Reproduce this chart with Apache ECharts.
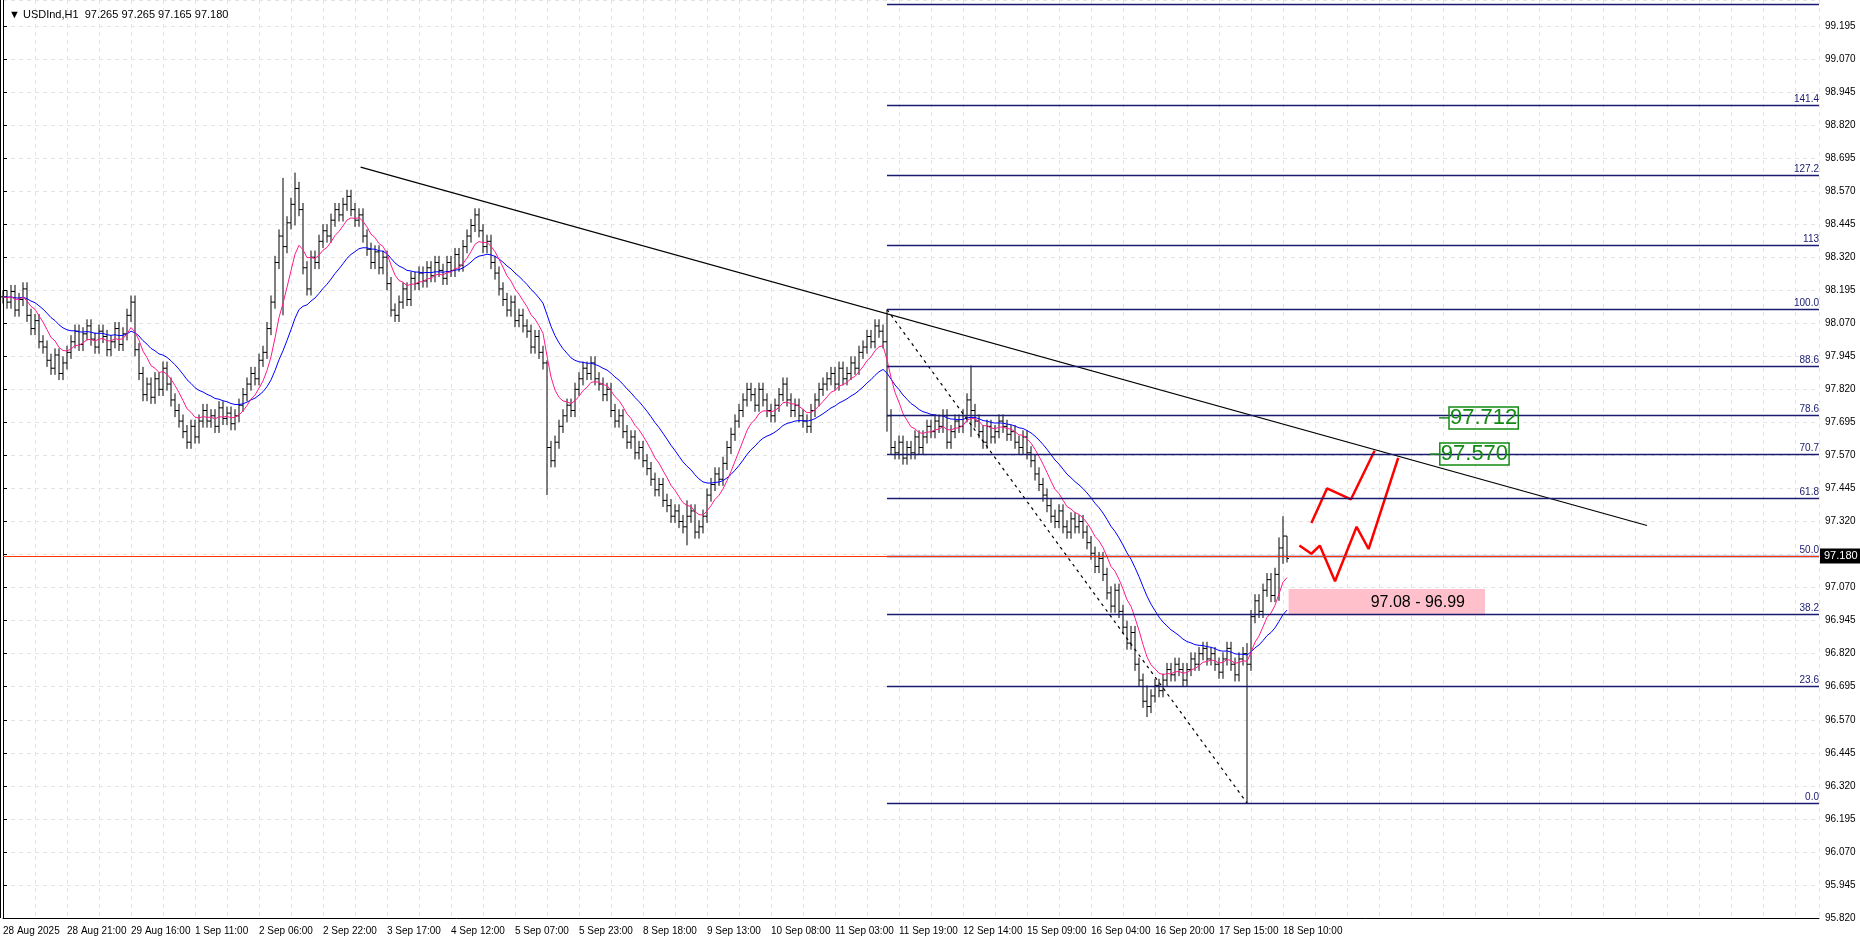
<!DOCTYPE html>
<html>
<head>
<meta charset="utf-8">
<script src="https://cdn.jsdelivr.net/npm/echarts@6/dist/echarts.min.js"></script>
<style>
html, body { margin: 0; padding: 0; background: #fff; }
#chart { width: 1860px; height: 942px; }
</style>
</head>
<body>
<div id="chart"></div>
<script>
// tick labels every 16 bars
var dateLabels = ['28 Aug 2025', '28 Aug 21:00', '29 Aug 16:00', '1 Sep 11:00', '2 Sep 06:00', '2 Sep 22:00',
  '3 Sep 17:00', '4 Sep 12:00', '5 Sep 07:00', '5 Sep 23:00', '8 Sep 18:00', '9 Sep 13:00', '10 Sep 08:00',
  '11 Sep 03:00', '11 Sep 19:00', '12 Sep 14:00', '15 Sep 09:00', '16 Sep 04:00', '16 Sep 20:00',
  '17 Sep 15:00', '18 Sep 10:00'];

// hourly closes
var closes = [
  98.17, 98.15, 98.19, 98.12, 98.16, 98.20, 98.10, 98.05, 98.08, 98.00,
  97.98, 97.93, 97.90, 97.95, 97.88, 97.92, 97.96, 98.00, 98.04, 97.99,
  98.03, 98.06, 98.01, 97.98, 98.04, 98.02, 97.97, 98.00, 98.05, 97.99,
  98.03, 98.10, 98.15, 97.97, 97.88, 97.80, 97.84, 97.79, 97.86, 97.82,
  97.90, 97.84, 97.78, 97.74, 97.70, 97.66, 97.62, 97.68, 97.64, 97.70,
  97.74, 97.70, 97.72, 97.68, 97.75, 97.71, 97.73, 97.69, 97.72, 97.76,
  97.80, 97.84, 97.88, 97.86, 97.93, 97.96, 98.05, 98.15, 98.30, 98.40,
  98.36, 98.45, 98.52, 98.58, 98.50, 98.28, 98.20, 98.32, 98.30, 98.38,
  98.42, 98.40, 98.46, 98.50, 98.48, 98.52, 98.55, 98.50, 98.46, 98.48,
  98.40, 98.35, 98.30, 98.34, 98.28, 98.32, 98.22, 98.12, 98.10, 98.15,
  98.20, 98.16, 98.24, 98.22, 98.26, 98.23, 98.28, 98.25, 98.30, 98.27,
  98.24, 98.30, 98.27, 98.33, 98.29, 98.36, 98.40, 98.44, 98.48, 98.42,
  98.36, 98.38, 98.30, 98.26, 98.20, 98.16, 98.12, 98.15, 98.08, 98.10,
  98.06, 98.04, 97.98, 98.02, 97.96, 97.92, 97.60, 97.55, 97.62, 97.68,
  97.72, 97.76, 97.74, 97.82, 97.86, 97.90, 97.88, 97.92, 97.86, 97.84,
  97.80, 97.82, 97.74, 97.70, 97.72, 97.66, 97.62, 97.64, 97.58, 97.60,
  97.55, 97.52, 97.48, 97.44, 97.46, 97.40, 97.38, 97.34, 97.36, 97.32,
  97.30, 97.34, 97.36, 97.28, 97.30, 97.34, 97.42, 97.46, 97.50, 97.48,
  97.54, 97.60, 97.65, 97.70, 97.74, 97.78, 97.82, 97.80, 97.76, 97.82,
  97.78, 97.74, 97.72, 97.76, 97.80, 97.84, 97.78, 97.74, 97.76, 97.72,
  97.70, 97.68, 97.74, 97.78, 97.82, 97.84, 97.86, 97.88, 97.84, 97.90,
  97.86, 97.88, 97.92, 97.90, 97.96, 97.98, 98.02, 98.00, 98.06, 98.04,
  98.00, 97.72, 97.60, 97.58, 97.62, 97.56, 97.60, 97.58, 97.64, 97.60,
  97.64, 97.68, 97.66, 97.70, 97.68, 97.72, 97.62, 97.66, 97.70, 97.68,
  97.72, 97.78, 97.74, 97.70, 97.66, 97.62, 97.68, 97.64, 97.66, 97.70,
  97.68, 97.65, 97.66, 97.62, 97.60, 97.64, 97.58, 97.55, 97.50, 97.46,
  97.42, 97.38, 97.34, 97.32, 97.36, 97.30, 97.28, 97.33, 97.30, 97.32,
  97.28, 97.24, 97.20, 97.15, 97.18, 97.12, 97.05, 97.00, 97.06, 96.98,
  96.92, 96.86, 96.90, 96.78, 96.72, 96.64, 96.62, 96.66, 96.70, 96.68,
  96.72, 96.76, 96.74, 96.78, 96.76, 96.72, 96.76, 96.80, 96.78, 96.82,
  96.84, 96.80, 96.82, 96.78, 96.75, 96.80, 96.84, 96.78, 96.74, 96.80,
  96.82, 96.78, 96.96, 97.02, 96.98, 97.06, 97.10, 97.04, 97.12, 97.22,
  97.265, 97.18
];
// bars whose wicks stick out further than usual: [index, high, low]
var wickOverrides = [[70, 98.62, 98.10], [73, 98.64, 98.44], [136, 97.93, 97.42], [171, 97.40, 97.23],
  [221, 98.122, 97.66], [242, 97.91, 97.64], [286, 96.70, 96.58], [311, 96.86, 96.255],
  [319, 97.26, 97.02], [320, 97.34, 97.16], [321, 97.265, 97.165]];

var trendLine = [[89.4, 98.661], [411, 97.305]];
var diagLine = [[221, 98.122], [311, 96.255]];
var fibStart = 221, fibLow = 96.255, fibHigh = 98.122;
var fibLevels = [0, 23.6, 38.2, 50.0, 61.8, 70.7, 78.6, 88.6, 100.0, 113, 127.2, 141.4, 161.8];
var fibNames = ['0.0', '23.6', '38.2', '50.0', '61.8', '70.7', '78.6', '88.6', '100.0', '113', '127.2', '141.4', ''];
var zigA = [[327.1, 97.314], [331, 97.445], [337, 97.404], [342.9, 97.588]];
var zigB = [[324.1, 97.229], [327.1, 97.198], [329.2, 97.229], [333, 97.094], [338.4, 97.300], [341.4, 97.216], [348.8, 97.561]];
var zone = [[321.4, 97.065], [370.5, 96.965]];
var targets = [[361.5, 97.712, '97.712'], [359.2, 97.575, '97.570']];
var lastPrice = 97.18, bidLine = 97.195;

// build OHLC bars
var bars = [];
for (var i = 0; i < closes.length; i++) {
  var c = closes[i];
  var o = i === 0 ? c : closes[i - 1];
  bars.push([i, o, Math.max(o, c) + 0.025, Math.min(o, c) - 0.025, c]);
}
wickOverrides.forEach(function (w) { bars[w[0]][2] = w[1]; bars[w[0]][3] = w[2]; });
bars[321][1] = 97.265;

function ema(period) {
  var k = 2 / (period + 1), out = [], v = closes[0];
  for (var i = 0; i < closes.length; i++) {
    v = i === 0 ? closes[0] : closes[i] * k + v * (1 - k);
    out.push([i, +v.toFixed(4)]);
  }
  return out;
}

var fibMarks = fibLevels.map(function (lv, n) {
  var p = fibLow + (fibHigh - fibLow) * lv / 100;
  return [{ coord: [fibStart, p], label: { formatter: fibNames[n] } }, { coord: [454, p] }];
});

var chart = echarts.init(document.getElementById('chart'));
chart.setOption({
  animation: false,
  backgroundColor: '#fff',
  textStyle: { fontFamily: 'Liberation Sans, DejaVu Sans, sans-serif' },
  title: {
    text: '▼ USDInd,H1  97.265 97.265 97.165 97.180',
    left: 4, top: 4,
    textStyle: { fontSize: 11, fontWeight: 'normal', color: '#000' }
  },
  grid: { left: 3, right: 41, top: 0, bottom: 24 },
  graphic: [{ type: 'line', shape: { x1: 0.5, y1: 0, x2: 0.5, y2: 918 }, style: { stroke: '#000', lineWidth: 1 } }],
  xAxis: {
    type: 'value', min: 0, max: 454, interval: 8,
    axisLine: { lineStyle: { color: '#000' } },
    axisTick: { show: false },
    axisLabel: {
      color: '#000', fontSize: 10, align: 'left', margin: 8,
      formatter: function (v) {
        return v % 16 === 0 && v / 16 < dateLabels.length ? dateLabels[v / 16] : '';
      }
    },
    splitLine: { show: true, lineStyle: { color: '#e4e4e4', type: [4, 4] } }
  },
  yAxis: {
    type: 'value', position: 'right', min: 95.82, max: 99.293, interval: 0.125,
    axisLine: { show: true, lineStyle: { color: '#000' } },
    axisTick: { show: true, length: 4, lineStyle: { color: '#000' } },
    axisLabel: {
      color: '#000', fontSize: 10, margin: 6, showMaxLabel: false,
      formatter: function (v) { return v.toFixed(3); }
    },
    splitLine: { show: true, lineStyle: { color: '#e4e4e4', type: [4, 4] } }
  },
  series: [
    {
      type: 'line', data: [], silent: true,
      markLine: {
        symbol: 'none', silent: true,
        lineStyle: { color: '#1a1a70', width: 1.3, type: 'solid' },
        label: { position: 'insideEndTop', color: '#1a1a70', fontSize: 10, distance: [0, 1] },
        data: fibMarks
      }
    },
    {
      type: 'line', data: [], silent: true,
      markLine: {
        symbol: 'none', silent: true,
        lineStyle: { color: '#ff3300', width: 1, type: 'solid' },
        label: {
          position: 'end', formatter: lastPrice.toFixed(3), color: '#fff', backgroundColor: '#000',
          fontSize: 11, padding: [2, 4], distance: 1
        },
        data: [{ yAxis: bidLine }]
      },
      markArea: {
        silent: true,
        itemStyle: { color: '#ffc0cb' },
        label: { show: true, position: 'insideRight', distance: 20, color: '#000', fontSize: 16 },
        data: [[{ coord: zone[0], name: '97.08 - 96.99' }, { coord: zone[1] }]]
      },
      markPoint: {
        silent: true,
        symbol: 'rect', symbolSize: [10, 1.5],
        itemStyle: { color: '#1a8a1a' },
        label: {
          position: 'right', distance: 0, color: '#138a13', fontSize: 22,
          borderColor: '#138a13', borderWidth: 1.5, padding: [1, 1, -1, 1]
        },
        data: targets.map(function (t) {
          return { coord: [t[0], t[1]], value: t[2], symbolOffset: [-5, 0], label: { formatter: t[2] } };
        })
      }
    },
    {
      type: 'line', data: ema(24), showSymbol: false, silent: true,
      lineStyle: { color: '#0000ff', width: 1 }
    },
    {
      type: 'line', data: ema(9), showSymbol: false, silent: true,
      lineStyle: { color: '#ff1a8c', width: 1 }
    },
    {
      type: 'custom', data: bars, silent: true,
      encode: { x: 0, y: [1, 2, 3, 4] },
      renderItem: function (params, api) {
        var x = api.value(0);
        var po = api.coord([x, api.value(1)]);
        var ph = api.coord([x, api.value(2)]);
        var pl = api.coord([x, api.value(3)]);
        var pc = api.coord([x, api.value(4)]);
        var style = { stroke: '#000', lineWidth: 1 };
        return {
          type: 'group',
          children: [
            { type: 'line', shape: { x1: ph[0], y1: ph[1], x2: pl[0], y2: pl[1] }, style: style },
            { type: 'line', shape: { x1: po[0] - 2, y1: po[1], x2: po[0], y2: po[1] }, style: style },
            { type: 'line', shape: { x1: pc[0], y1: pc[1], x2: pc[0] + 2, y2: pc[1] }, style: style }
          ]
        };
      }
    },
    {
      type: 'line', data: trendLine, showSymbol: false, silent: true,
      lineStyle: { color: '#000', width: 1.2 }
    },
    {
      type: 'line', data: diagLine, showSymbol: false, silent: true,
      lineStyle: { color: '#000', width: 1.2, type: [3, 4] }
    },
    {
      type: 'line', data: zigA, showSymbol: false, silent: true,
      lineStyle: { color: '#ff0000', width: 2.5 }
    },
    {
      type: 'line', data: zigB, showSymbol: false, silent: true,
      lineStyle: { color: '#ff0000', width: 2.5 }
    }
  ]
});
</script>
</body>
</html>
